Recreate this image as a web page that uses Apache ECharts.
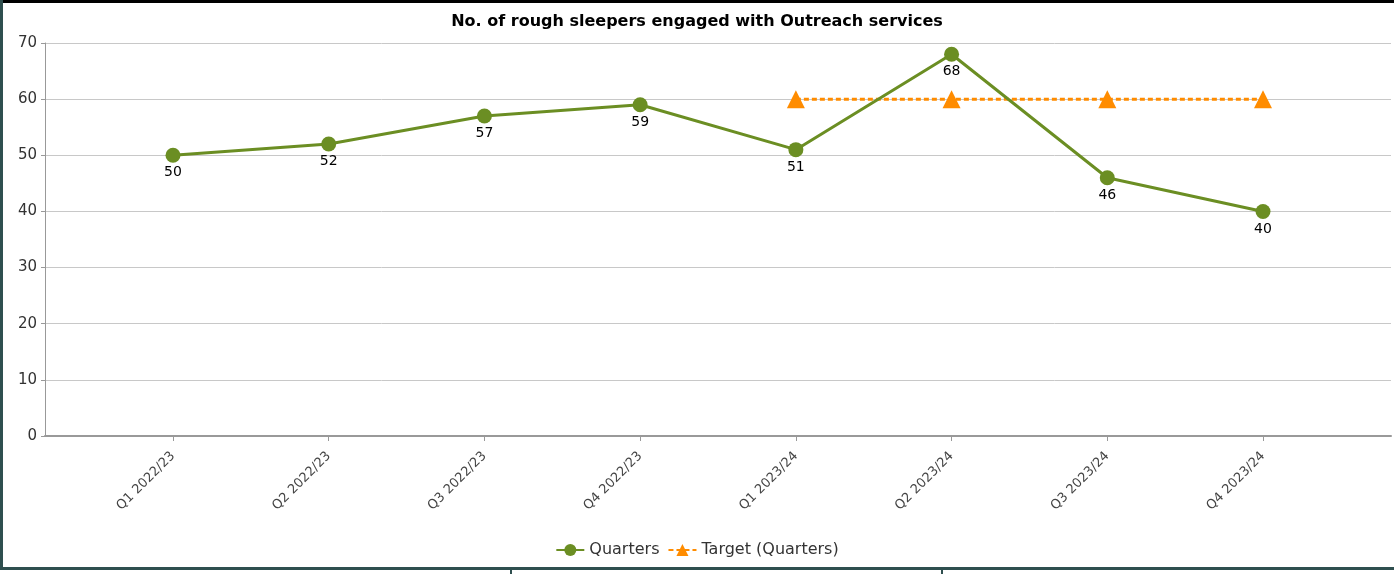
<!DOCTYPE html>
<html>
<head>
<meta charset="utf-8">
<title>No. of rough sleepers engaged with Outreach services</title>
<script src="https://cdn.jsdelivr.net/npm/echarts@6/dist/echarts.min.js"></script>
<style>
  html, body { margin: 0; padding: 0; background: #fff; }
  #frame { position: absolute; left: 0; top: 0; width: 1394px; height: 574px; overflow: hidden; }
  #topline { position: absolute; left: 0; top: 0; width: 1394px; height: 3px; background: #000; }
  #leftline { position: absolute; left: 0; top: 0; width: 3px; height: 570px; background: #2f4f4f; }
  #bottomline { position: absolute; left: 0; top: 567px; width: 1394px; height: 3px; background: #2f4f4f; }
  #sep1 { position: absolute; left: 510px; top: 567px; width: 2px; height: 7px; background: #2f4f4f; }
  #sep2 { position: absolute; left: 941px; top: 567px; width: 2px; height: 7px; background: #2f4f4f; }
  #chart { position: absolute; left: 0; top: 0; width: 1394px; height: 574px; }
</style>
</head>
<body>
<div id="frame">
  <div id="chart"></div>
  <div id="topline"></div>
  <div id="leftline"></div>
  <div id="bottomline"></div>
  <div id="sep1"></div>
  <div id="sep2"></div>
</div>
<script type="text/javascript">
// categories and values
var quarters = ['Q1 2022/23', 'Q2 2022/23', 'Q3 2022/23', 'Q4 2022/23',
                'Q1 2023/24', 'Q2 2023/24', 'Q3 2023/24', 'Q4 2023/24'];
var engaged = [50, 52, 57, 59, 51, 68, 46, 40];
var target = [null, null, null, null, 60, 60, 60, 60];
var yTicks = [0, 10, 20, 30, 40, 50, 60, 70];

// the category points sit ~0.82 of a step in from each end of the axis
var pad = 0.822;

function pairs(arr) {
  var out = [];
  for (var i = 0; i < arr.length; i++) {
    out.push([i, arr[i]]);
  }
  return out;
}

var catIdx = [];
for (var k = 0; k < quarters.length; k++) catIdx.push(k);

var font = 'DejaVu Sans';
var chart = echarts.init(document.getElementById('chart'));

var option = {
  backgroundColor: '#fff',
  animation: false,
  title: {
    text: 'No. of rough sleepers engaged with Outreach services',
    left: 'center',
    top: 9,
    textStyle: { fontFamily: font, fontSize: 16, fontWeight: 'bold', color: '#000' }
  },
  grid: { left: 45, right: 3, top: 43, bottom: 138 },
  legend: {
    bottom: 11,
    left: 'center',
    itemWidth: 28,
    itemHeight: 15,
    itemGap: 8,
    textStyle: { fontFamily: font, fontSize: 16, color: '#333' },
    data: ['Quarters', 'Target (Quarters)']
  },
  xAxis: {
    type: 'value',
    min: -pad,
    max: quarters.length - 1 + pad,
    splitLine: { show: false },
    axisLine: { show: true, onZero: false, lineStyle: { color: '#999', width: 2 } },
    axisTick: { show: true, length: 5, customValues: catIdx, lineStyle: { color: '#999' } },
    axisLabel: {
      rotate: 45,
      margin: 18,
      fontFamily: font,
      fontSize: 13,
      color: '#444',
      customValues: catIdx,
      formatter: function (v) {
        return quarters[Math.round(v)] || '';
      }
    }
  },
  yAxis: {
    type: 'value',
    min: yTicks[0],
    max: yTicks[yTicks.length - 1],
    interval: 10,
    axisLine: { show: true, onZero: false, lineStyle: { color: '#999', width: 1 } },
    axisTick: { show: true, length: 4, lineStyle: { color: '#999' } },
    splitLine: { show: true, lineStyle: { color: '#c8c8c8', width: 1 } },
    axisLabel: { fontFamily: font, fontSize: 15, color: '#333', margin: 8 }
  },
  series: [
    {
      name: 'Quarters',
      type: 'line',
      data: pairs(engaged),
      color: '#6b8e23',
      symbol: 'circle',
      symbolSize: 15,
      lineStyle: { width: 3, color: '#6b8e23' },
      itemStyle: { color: '#6b8e23' },
      label: {
        show: true,
        position: 'bottom',
        distance: 3,
        fontFamily: font,
        fontSize: 14,
        color: '#000',
        formatter: function (p) { return p.value[1]; }
      },
      z: 3
    },
    {
      name: 'Target (Quarters)',
      type: 'line',
      data: pairs(target),
      color: '#ff8c00',
      symbol: 'triangle',
      symbolSize: 18,
      lineStyle: { width: 3, color: '#ff8c00', type: [5, 3] },
      itemStyle: { color: '#ff8c00' },
      z: 2
    }
  ]
};

chart.setOption(option);
</script>
</body>
</html>
